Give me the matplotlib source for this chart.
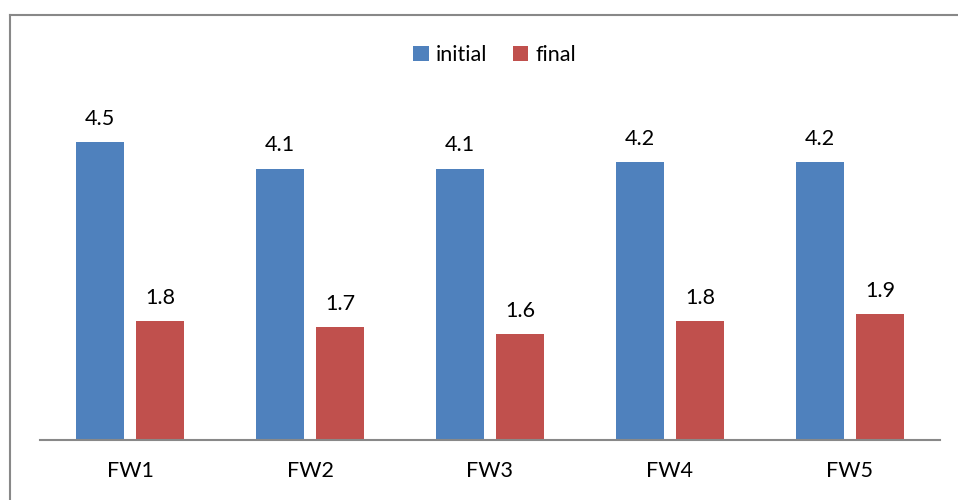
import matplotlib.pyplot as plt
import numpy as np
from matplotlib.lines import Line2D

categories = ['FW1', 'FW2', 'FW3', 'FW4', 'FW5']
initial = [4.5, 4.1, 4.1, 4.2, 4.2]
final = [1.8, 1.7, 1.6, 1.8, 1.9]

plt.rcParams['font.family'] = ['Lato', 'DejaVu Sans']

W, H = 958, 500
fig = plt.figure(figsize=(W / 100, H / 100), dpi=100)
ax = fig.add_axes([40 / W, 60 / H, 900 / W, 360 / H])

x = np.arange(len(categories))
bw = 0.267
b1 = ax.bar(x - 0.169, initial, bw, color='#4F81BD', label='initial')
b2 = ax.bar(x + 0.169, final, bw, color='#C0504D', label='final')

for bars in (b1, b2):
    for r in bars:
        ax.text(r.get_x() + r.get_width() / 2, r.get_height() + 0.2,
                '%.1f' % r.get_height(), ha='center', va='bottom', fontsize=15.5)

ax.set_xlim(-0.5, len(categories) - 0.5)
ax.set_ylim(0, 360 / 66.2)
ax.set_xticks(x)
ax.set_xticklabels(categories, fontsize=15.5)
ax.tick_params(axis='x', length=0, pad=15)
ax.set_yticks([])
for s in ['top', 'right', 'left']:
    ax.spines[s].set_visible(False)
ax.spines['bottom'].set_color('#888888')
ax.spines['bottom'].set_linewidth(1.5)

fig.legend(loc='center', bbox_to_anchor=(495 / W, 1 - 55 / H), ncol=2, frameon=False,
           fontsize=15.5, handlelength=0.7, handleheight=0.7, handletextpad=0.35,
           columnspacing=1.2)

# outer border of the chart area
fig.add_artist(Line2D([10 / W, 1], [1 - 15 / H, 1 - 15 / H], color='#888888', lw=1.5))
fig.add_artist(Line2D([10 / W, 10 / W], [0, 1 - 15 / H], color='#888888', lw=1.5))

fig.savefig('out.png', dpi=100)
